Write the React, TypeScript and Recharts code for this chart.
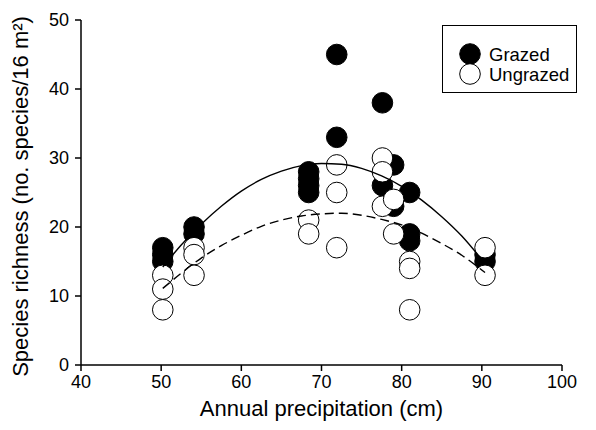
import { ScatterChart, Scatter, XAxis, YAxis, Label } from 'recharts'

// site precipitation (cm) and species counts
const grazedPrecip   = [50.2, 50.2, 50.2, 54.1, 54.1, 68.4, 68.4, 68.4, 68.4, 71.9, 71.9, 77.6, 77.6, 79.0, 79.0, 81.0, 81.0, 81.0, 90.4, 90.4]
const grazedRichness = [17, 16, 15, 20, 19, 28, 27, 26, 25, 45, 33, 38, 26, 29, 23, 25, 19, 18, 16, 15]

const ungrazedPrecip   = [50.2, 50.2, 50.2, 54.1, 54.1, 54.1, 68.4, 68.4, 71.9, 71.9, 71.9, 77.6, 77.6, 77.6, 79.0, 79.0, 81.0, 81.0, 81.0, 90.4, 90.4]
const ungrazedRichness = [13, 11, 8, 17, 16, 13, 21, 19, 29, 25, 17, 30, 28, 23, 24, 19, 15, 14, 8, 17, 13]

// fitted curves as drawn in the figure
const fitPrecip    = [50.2, 52.5, 55, 57.5, 60, 62.5, 65, 67.5, 70, 72.5, 75, 77.5, 80, 82.5, 85, 87.5, 90.4]
const grazedFit    = [14.2, 17.4, 20.4, 23.0, 25.2, 26.9, 28.1, 28.9, 29.2, 29.1, 28.5, 27.4, 25.9, 23.9, 21.5, 18.7, 14.7]
const ungrazedFit  = [11.1, 13.3, 15.5, 17.3, 18.8, 20.1, 21.0, 21.6, 21.9, 22.0, 21.7, 21.1, 20.3, 19.1, 17.6, 15.9, 13.4]

const xTicks = [40, 50, 60, 70, 80, 90, 100]
const yTicks = [0, 10, 20, 30, 40, 50]

const FONT = '"Liberation Sans", Arial, sans-serif'

const zip = (xs: number[], ys: number[]) => xs.map((x, i) => ({ x, y: ys[i] }))

const grazed   = zip(grazedPrecip, grazedRichness)
const ungrazed = zip(ungrazedPrecip, ungrazedRichness)
const grazedCurve   = zip(fitPrecip, grazedFit)
const ungrazedCurve = zip(fitPrecip, ungrazedFit)

const filledDot = (p: any) => <circle cx={p.cx} cy={p.cy} r={10.3} fill="#000" stroke="#000" strokeWidth={1} />
const openDot   = (p: any) => <circle cx={p.cx} cy={p.cy} r={10.3} fill="#fff" stroke="#000" strokeWidth={1} />
const noDot     = () => <g />

// legend box sits in the top right corner of the plot
function LegendBox() {
  return (
    <div style={{
      position: 'absolute', left: 442, top: 25, width: 135, height: 68,
      border: '1.3px solid #000', boxSizing: 'border-box', background: '#fff'
    }}>
      <svg width={135} height={68} style={{ position: 'absolute', left: -1, top: -1 }}>
        <circle cx={28} cy={29} r={10.3} fill="#000" stroke="#000" />
        <circle cx={28} cy={49} r={10.3} fill="#fff" stroke="#000" />
        <text x={47} y={35.5} fontSize={18.5} fontFamily={FONT} fill="#000">Grazed</text>
        <text x={47} y={55.5} fontSize={18.5} fontFamily={FONT} fill="#000">Ungrazed</text>
      </svg>
    </div>
  )
}

export default function App() {
  return (
    <div style={{ position: 'absolute', left: 0, top: 0, width: 596, height: 430, background: '#fff' }}>
      <ScatterChart width={596} height={430} margin={{ top: 20, right: 34, bottom: 15, left: 0 }}>
        <XAxis
          type="number"
          dataKey="x"
          domain={[40, 100]}
          ticks={xTicks}
          allowDataOverflow
          height={50}
          axisLine={{ stroke: '#000', strokeWidth: 1.5 }}
          tickLine={{ stroke: '#000', strokeWidth: 1.5 }}
          tickSize={6}
          tickMargin={4}
          tick={{ fill: '#000', fontSize: 18, fontFamily: FONT }}
        >
          <Label
            content={({ viewBox }: any) => (
              <text x={viewBox.x + viewBox.width / 2} y={viewBox.y + 51} textAnchor="middle"
                fontSize={22} fontFamily={FONT} fill="#000">
                Annual precipitation (cm)
              </text>
            )}
          />
        </XAxis>
        <YAxis
          type="number"
          dataKey="y"
          domain={[0, 50]}
          ticks={yTicks}
          allowDataOverflow
          width={81}
          axisLine={{ stroke: '#000', strokeWidth: 1.5 }}
          tickLine={{ stroke: '#000', strokeWidth: 1.5 }}
          tickSize={6}
          tickMargin={6}
          tick={{ fill: '#000', fontSize: 18, fontFamily: FONT }}
        >
          <Label
            content={({ viewBox }: any) => {
              const cx = 28
              const cy = viewBox.y + viewBox.height / 2 + 4
              return (
                <text x={cx} y={cy} textAnchor="middle" transform={`rotate(-90, ${cx}, ${cy})`}
                  fontSize={22} fontFamily={FONT} fill="#000">
                  Species richness (no. species/16 m²)
                </text>
              )
            }}
          />
        </YAxis>

        <Scatter name="Grazed" data={grazed} shape={filledDot} isAnimationActive={false} />
        <Scatter name="Ungrazed" data={ungrazed} shape={openDot} isAnimationActive={false} />

        {/* quadratic fits: solid for grazed, dashed for ungrazed */}
        <Scatter
          data={grazedCurve}
          shape={noDot}
          line={{ stroke: '#000', strokeWidth: 1.4 }}
          lineJointType="monotoneX"
          legendType="none"
          isAnimationActive={false}
        />
        <Scatter
          data={ungrazedCurve}
          shape={noDot}
          line={{ stroke: '#000', strokeWidth: 1.4, strokeDasharray: '9 5' }}
          lineJointType="monotoneX"
          legendType="none"
          isAnimationActive={false}
        />
      </ScatterChart>
      <LegendBox />
    </div>
  )
}
